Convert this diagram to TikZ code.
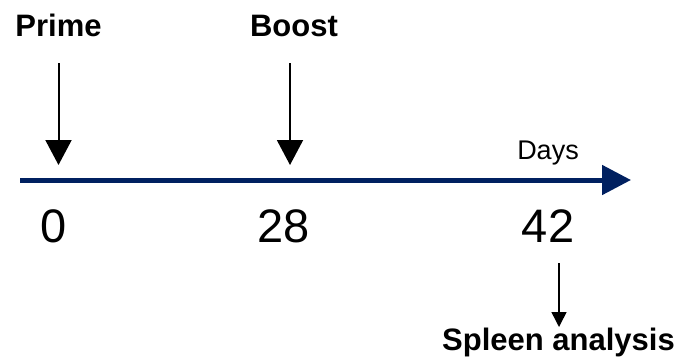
\documentclass[tikz,border=0pt]{standalone}
\usepackage{fontspec}
\setmainfont{Liberation Sans}
\usetikzlibrary{arrows.meta}
\definecolor{navy}{RGB}{0,32,96}
\begin{document}
\begin{tikzpicture}[x=1pt,y=-1pt,
  lab/.style={font=\fontsize{31}{36}\selectfont\bfseries, anchor=base, inner sep=0pt},
  num/.style={font=\fontsize{47}{54}\selectfont, anchor=base, inner sep=0pt},
  unit/.style={font=\fontsize{27}{32}\selectfont, anchor=base, inner sep=0pt},
  bigarrow/.style={line width=2pt, -{Triangle[length=25pt,width=26pt]}},
  smallarrow/.style={line width=1.5pt, -{Triangle[length=15pt,width=15pt]}},
  timeline/.style={navy, line width=5pt, -{Triangle[length=29pt,width=29pt]}}]
\useasboundingbox (0,0) rectangle (684,361);
% timeline
\coordinate (tstart) at (20,180);
\coordinate (tend) at (631,180);
\draw[timeline] (tstart) -- (tend);
% labels
\node[lab] (prime) at (58.5,37) {Prime};
\node[lab] (boost) at (294,37) {Boost};
\node[unit] (days) at (548,159) {Days};
\node[num] (d0) at (53.5,242) {0};
\node[num] (d28) at (284,242) {28};
\node[num] (d42) at (548,242) {42};
\node[lab] (spleen) at (558.5,350) {Spleen analysis};
% arrows
\coordinate (p1) at (58.5,63);
\coordinate (p2) at (58.5,165);
\coordinate (b1) at (290,63);
\coordinate (b2) at (290,165);
\coordinate (s1) at (559,263);
\coordinate (s2) at (559,327);
\draw[bigarrow] (p1) -- (p2);
\draw[bigarrow] (b1) -- (b2);
\draw[smallarrow] (s1) -- (s2);
\end{tikzpicture}
\end{document}
